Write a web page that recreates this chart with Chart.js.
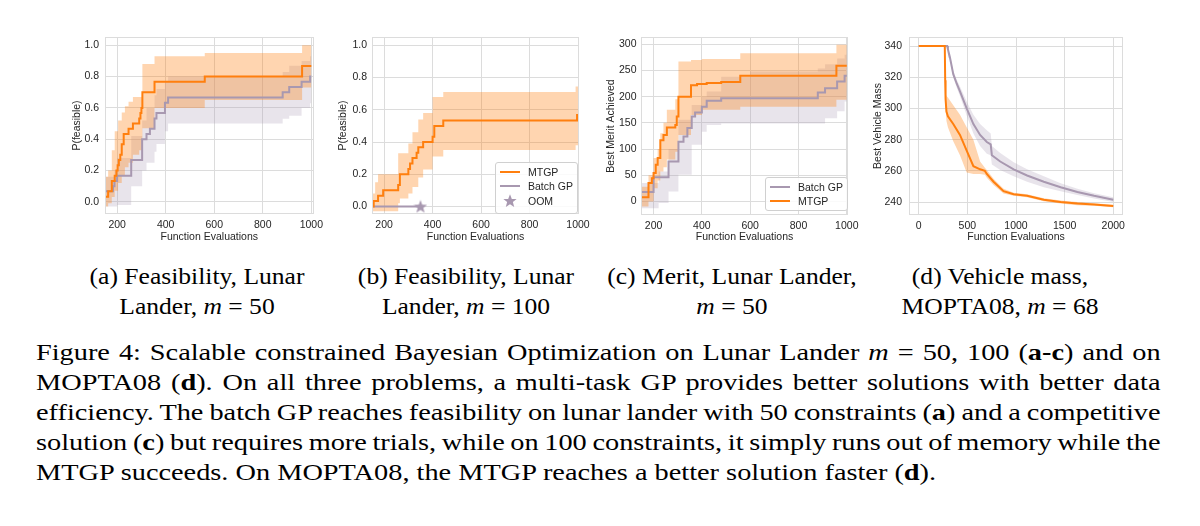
<!DOCTYPE html>
<html><head><meta charset="utf-8">
<script src="https://cdn.jsdelivr.net/npm/chart.js@4/dist/chart.umd.min.js"></script>
<style>
html,body{margin:0;padding:0;background:#fff;width:1200px;height:526px;overflow:hidden;position:relative;}
.panel{position:absolute;}
.sub{position:absolute;width:320px;text-align:center;font-family:"Liberation Serif",serif;font-size:24px;line-height:30px;color:#000;transform:scaleX(1.065);transform-origin:50% 0;}
.cap{position:absolute;left:36px;top:337px;width:953px;font-family:"Liberation Serif",serif;font-size:24px;line-height:30px;color:#000;transform:scaleX(1.18);transform-origin:0 0;}
.cap div{text-align:justify;text-align-last:justify;word-spacing:-1.5px;white-space:nowrap;}
.cap div.last{text-align:left;text-align-last:left;word-spacing:0;}
.leg{position:absolute;border:1px solid #d0d0d0;border-radius:3px;background:rgba(255,255,255,0.85);font-family:"Liberation Sans",sans-serif;font-size:10.5px;color:#262626;}
.leg .row{position:absolute;left:0;width:100%;height:14px;line-height:14px;white-space:nowrap;}
.leg .ln{position:absolute;left:4px;top:6px;width:20px;height:2px;}
.leg .tx{position:absolute;left:32px;top:0;}
.leg svg{position:absolute;left:7px;top:0px;}
</style></head><body>

<div class="panel" style="left:55px;top:28px;width:280px;height:222px;"><canvas id="ca" width="280" height="222"></canvas></div>
<div class="panel" style="left:322px;top:28px;width:277px;height:222px;"><canvas id="cb" width="277" height="222"></canvas></div>
<div class="panel" style="left:590px;top:28px;width:280px;height:222px;"><canvas id="cc" width="280" height="222"></canvas></div>
<div class="panel" style="left:858px;top:28px;width:285px;height:222px;"><canvas id="cd" width="285" height="222"></canvas></div>

<div class="leg" style="left:495px;top:162px;width:81px;height:50px;">
  <div class="row" style="top:2px;"><span class="ln" style="background:#ff7f0e"></span><span class="tx">MTGP</span></div>
  <div class="row" style="top:16px;"><span class="ln" style="background:#a898b0"></span><span class="tx">Batch GP</span></div>
  <div class="row" style="top:31px;"><svg width="14" height="14" viewBox="0 0 20 20"><polygon points="10,0.5 12.6,7 19.5,7.2 14.1,11.5 16,18.5 10,14.5 4,18.5 5.9,11.5 0.5,7.2 7.4,7" fill="#a898b0"/></svg><span class="tx">OOM</span></div>
</div>
<div class="leg" style="left:765px;top:177px;width:81px;height:32px;">
  <div class="row" style="top:1.5px;"><span class="ln" style="background:#a898b0"></span><span class="tx">Batch GP</span></div>
  <div class="row" style="top:16px;"><span class="ln" style="background:#ff7f0e"></span><span class="tx">MTGP</span></div>
</div>

<div class="sub" style="left:37px;top:261px;">(a) Feasibility, Lunar<br>Lander, <i>m</i> = 50</div>
<div class="sub" style="left:306px;top:261px;">(b) Feasibility, Lunar<br>Lander, <i>m</i> = 100</div>
<div class="sub" style="left:572px;top:261px;">(c) Merit, Lunar Lander,<br><i>m</i> = 50</div>
<div class="sub" style="left:840px;top:261px;">(d) Vehicle mass,<br>MOPTA08, <i>m</i> = 68</div>

<div class="cap">
<div>Figure 4: Scalable constrained Bayesian Optimization on Lunar Lander <i>m</i> = 50, 100 (<b>a-c</b>) and on</div>
<div>MOPTA08 (<b>d</b>). On all three problems, a multi-task GP provides better solutions with better data</div>
<div>efficiency. The batch GP reaches feasibility on lunar lander with 50 constraints (<b>a</b>) and a competitive</div>
<div>solution (<b>c</b>) but requires more trials, while on 100 constraints, it simply runs out of memory while the</div>
<div class="last">MTGP succeeds. On MOPTA08, the MTGP reaches a better solution faster (<b>d</b>).</div>
</div>

<script>
// ---------------- DATA ----------------
// Panel (a): Feasibility, Lunar Lander m=50
const aMtgpX = [150, 163, 178, 190, 197, 202, 207, 213, 219, 227, 247, 265, 291, 296, 300, 304, 354, 561, 962, 1000];
const aMtgpY = [0.033, 0.067, 0.133, 0.167, 0.2, 0.233, 0.267, 0.3, 0.367, 0.433, 0.467, 0.5, 0.533, 0.567, 0.6, 0.7, 0.767, 0.8, 0.867, 0.867];
const aMtgpBandX = [150, 163, 178, 190, 204, 219, 232, 247, 265, 291, 304, 354, 561, 962, 1000];
const aMtgpUp = [0.16, 0.2, 0.33, 0.45, 0.52, 0.57, 0.61, 0.64, 0.67, 0.67, 0.88, 0.93, 0.95, 1.0, 1.0];
const aMtgpLo = [-0.03, -0.01, 0.03, 0.07, 0.12, 0.17, 0.22, 0.25, 0.3, 0.33, 0.47, 0.6, 0.65, 0.73, 0.73];
const aBatchX = [150, 183, 189, 200, 258, 303, 321, 335, 354, 362, 397, 410, 882, 909, 960, 995, 1000];
const aBatchY = [0.067, 0.1, 0.133, 0.167, 0.267, 0.4, 0.433, 0.467, 0.533, 0.567, 0.633, 0.667, 0.7, 0.733, 0.767, 0.8, 0.8];
const aBatchBandX = [150, 189, 200, 258, 303, 321, 354, 362, 397, 410, 882, 909, 960, 995, 1000];
const aBatchUp = [0.16, 0.2, 0.28, 0.42, 0.52, 0.6, 0.68, 0.72, 0.77, 0.8, 0.83, 0.87, 0.9, 0.93, 0.93];
const aBatchLo = [-0.03, -0.03, -0.02, 0.1, 0.2, 0.25, 0.32, 0.37, 0.45, 0.5, 0.53, 0.55, 0.6, 0.63, 0.63];

// Panel (b): Feasibility, Lunar Lander m=100
const bMtgpX = [150, 157, 175, 196, 258, 265, 300, 307, 317, 334, 341, 361, 400, 407, 444, 996, 1000];
const bMtgpY = [0, 0.033, 0.067, 0.1, 0.133, 0.2, 0.233, 0.267, 0.3, 0.333, 0.367, 0.4, 0.433, 0.5, 0.533, 0.567, 0.567];
const bMtgpBandX = [150, 163, 175, 258, 265, 300, 317, 341, 361, 400, 444, 990, 1000];
const bMtgpUp = [0.08, 0.15, 0.2, 0.33, 0.33, 0.39, 0.46, 0.54, 0.58, 0.68, 0.71, 0.745, 0.745];
const bMtgpLo = [-0.03, -0.03, -0.03, 0.02, 0.05, 0.08, 0.12, 0.18, 0.23, 0.31, 0.35, 0.38, 0.38];
const bBatchX = [150, 350];
const bBatchY = [0, 0];
const bOomX = [350];
const bOomY = [0];

// Panel (c): Merit, Lunar Lander m=50
const cMtgpX = [150, 179, 193, 200, 209, 217, 228, 241, 255, 290, 296, 303, 355, 380, 420, 480, 559, 957, 1000];
const cMtgpY = [8, 35, 44, 54, 70, 83, 117, 127, 141, 146, 162, 200, 222, 224, 226, 228, 240, 259, 259];
const cMtgpBandX = [150, 179, 200, 217, 228, 241, 255, 290, 303, 355, 400, 559, 957, 1000];
const cMtgpUp = [28, 50, 83, 100, 130, 150, 175, 195, 267, 270, 272, 283, 299, 299];
const cMtgpLo = [-10, 0, 25, 40, 57, 65, 80, 95, 127, 165, 175, 181, 194, 194];
const cBatchX = [150, 176, 200, 262, 303, 324, 340, 358, 372, 400, 420, 480, 880, 910, 960, 991, 1000];
const cBatchY = [18, 18, 46, 76, 114, 124, 140, 162, 170, 181, 192, 197, 208, 216, 229, 240, 240];
const cBatchBandX = [150, 221, 262, 303, 358, 400, 420, 480, 600, 880, 910, 960, 991, 1000];
const cBatchUp = [35, 57, 100, 156, 184, 200, 210, 238, 248, 254, 262, 273, 280, 280];
const cBatchLo = [-13, -3, 19, 51, 108, 133, 146, 149, 149, 149, 159, 172, 191, 191];

// Panel (d): Vehicle mass, MOPTA08 m=68
const dMtgpX = [0, 268, 272, 276, 285, 300, 355, 424, 493, 562, 631, 680, 700, 769, 872, 976, 1114, 1286, 1459, 1631, 1803, 2000];
const dMtgpY = [340, 340, 318, 306, 298, 295, 290, 283, 273, 263, 261, 260, 258, 253, 247, 245, 244, 241.5, 240, 239, 238.5, 237.5];
const dMtgpUp = [340, 340, 318, 310, 308, 307, 302, 296, 288, 280, 266, 262, 260.5, 255, 248.5, 246, 245, 242.5, 241, 240, 239.3, 238.3];
const dMtgpLo = [340, 340, 318, 300, 292, 288, 279, 270, 259, 258, 258, 257.5, 255.5, 251, 245.5, 244, 243, 240.5, 239, 238, 237.7, 236.7];
const dBatchX = [0, 293, 300, 320, 355, 390, 424, 493, 562, 631, 700, 740, 752, 838, 976, 1114, 1286, 1459, 1631, 1803, 2000];
const dBatchY = [340, 340, 338, 333, 322, 316, 311, 300, 290, 283, 278.5, 277, 270, 266, 261, 257, 253, 249.5, 246.5, 244, 241.5];
const dBatchUp = [340, 340, 338.5, 334, 324, 318.5, 314, 304.5, 296, 290, 286, 284, 276, 271.5, 265.5, 261, 256.5, 252, 248.5, 245.7, 243];
const dBatchLo = [340, 340, 337.5, 332, 320, 313.5, 308, 295.5, 284, 276, 271, 270, 264, 260.5, 256.5, 253, 249.5, 247, 244.5, 242.3, 240];

// Tick labels
const xTicksLL = [200, 400, 600, 800, 1000];
const xTicksMO = [0, 500, 1000, 1500, 2000];
const yTicksFeas = [0, 0.2, 0.4, 0.6, 0.8, 1.0];
const yTicksMerit = [0, 50, 100, 150, 200, 250, 300];
const yTicksMass = [240, 260, 280, 300, 320, 340];

// ---------------- STYLE ----------------
const ORANGE = '#ff7f0e';
const ORANGE_FILL = 'rgba(255,127,14,0.33)';
const GRAY = '#a898b0';
const GRAY_FILL = 'rgba(168,152,176,0.26)';
const GRID = '#dcdcdc';
const TXT = '#262626';
const FONT = '"Liberation Sans", Arial, sans-serif';

function pts(xs, ys) { return xs.map((x, i) => ({x: x, y: ys[i]})); }
function lineDS(xs, ys, color, stepped) {
  return {data: pts(xs, ys), borderColor: color, borderWidth: 2, pointRadius: 0, stepped: stepped, fill: false, tension: 0};
}
function bandDS(xs, up, lo, fillColor, stepped) {
  return [
    {data: pts(xs, up), borderColor: 'rgba(0,0,0,0)', borderWidth: 0, pointRadius: 0, stepped: stepped, fill: '+1', backgroundColor: fillColor, tension: 0},
    {data: pts(xs, lo), borderColor: 'rgba(0,0,0,0)', borderWidth: 0, pointRadius: 0, stepped: stepped, fill: false, tension: 0}
  ];
}

function starImage(size, color) {
  const c = document.createElement('canvas');
  c.width = size; c.height = size;
  const g = c.getContext('2d');
  const cx = size / 2, cy = size / 2 + size * 0.04, R = size / 2, r = R * 0.42;
  g.beginPath();
  for (let i = 0; i < 10; i++) {
    const ang = -Math.PI / 2 + i * Math.PI / 5;
    const rad = i % 2 === 0 ? R : r;
    const px = cx + rad * Math.cos(ang), py = cy + rad * Math.sin(ang);
    if (i === 0) g.moveTo(px, py); else g.lineTo(px, py);
  }
  g.closePath();
  g.fillStyle = color; g.fill();
  return c;
}

const framePlugin = {
  id: 'frame',
  afterDatasetsDraw(chart) {
    const {ctx, chartArea: a} = chart;
    ctx.save();
    ctx.strokeStyle = GRID; ctx.lineWidth = 1;
    ctx.strokeRect(Math.round(a.left) + 0.5, Math.round(a.top) + 0.5, Math.round(a.right - a.left) - 1, Math.round(a.bottom - a.top) - 1);
    ctx.restore();
  }
};

function makePanel(canvasId, box, area, opt) {
  const padTop = area.t - box.T;
  const padRight = box.L + box.W - area.r;
  const yW = area.l - box.L;
  const xH = box.T + box.H - area.b;
  new Chart(document.getElementById(canvasId), {
    type: 'line',
    data: {datasets: opt.datasets},
    plugins: [framePlugin],
    options: {
      responsive: false, animation: false, events: [],
      layout: {padding: {top: padTop, right: padRight, left: 0, bottom: 0}},
      plugins: {legend: {display: false}, tooltip: {enabled: false}},
      scales: {
        x: {
          type: 'linear', min: opt.xMin, max: opt.xMax,
          afterBuildTicks: s => { s.ticks = opt.xTicks.map(v => ({value: v})); },
          afterFit: s => { s.height = xH; s.paddingLeft = 0; s.paddingRight = 0; },
          grid: {color: GRID, lineWidth: 1, drawTicks: false},
          border: {display: false},
          ticks: {color: TXT, font: {family: FONT, size: 10.5}, padding: 5, maxRotation: 0, autoSkip: false, callback: v => String(v)},
          title: {display: true, text: 'Function Evaluations', color: TXT, font: {family: FONT, size: 10.5}, padding: {top: 0, bottom: 6.7}}
        },
        y: {
          type: 'linear', min: opt.yMin, max: opt.yMax,
          afterBuildTicks: s => { s.ticks = opt.yTicks.map(v => ({value: v})); },
          afterFit: s => { s.width = yW; s.paddingTop = 0; s.paddingBottom = 0; },
          grid: {color: GRID, lineWidth: 1, drawTicks: false},
          border: {display: false},
          ticks: {color: TXT, font: {family: FONT, size: 10.5}, padding: opt.yPad, callback: opt.yFmt, autoSkip: false},
          title: {display: true, text: opt.yTitle, color: TXT, font: {family: FONT, size: 10.5}, padding: {top: opt.yTitlePad, bottom: 0}}
        }
      }
    }
  });
}

const fmt1 = v => Number(v).toFixed(1);
const fmt0 = v => String(Math.round(v));

// (a)
makePanel('ca', {L: 55, T: 28, W: 280, H: 222}, {l: 105, r: 313.5, t: 37, b: 214}, {
  xMin: 150, xMax: 1009, yMin: -0.078, yMax: 1.053, xTicks: xTicksLL, yTicks: yTicksFeas, yFmt: fmt1,
  yTitle: 'P(feasible)', yTitlePad: 15.7, yPad: 6,
  datasets: [
    lineDS(aMtgpX, aMtgpY, ORANGE, true),
    lineDS(aBatchX, aBatchY, GRAY, true),
    ...bandDS(aMtgpBandX, aMtgpUp, aMtgpLo, ORANGE_FILL, true),
    ...bandDS(aBatchBandX, aBatchUp, aBatchLo, GRAY_FILL, true)
  ]
});

// (b)
const star = starImage(14, GRAY);
makePanel('cb', {L: 322, T: 28, W: 277, H: 222}, {l: 372, r: 579, t: 37, b: 214}, {
  xMin: 150, xMax: 1004, yMin: -0.047, yMax: 1.052, xTicks: xTicksLL, yTicks: yTicksFeas, yFmt: fmt1,
  yTitle: 'P(feasible)', yTitlePad: 14.7, yPad: 5,
  datasets: [
    {data: pts(bOomX, bOomY), showLine: false, pointStyle: star, pointRadius: 7, borderWidth: 0},
    lineDS(bMtgpX, bMtgpY, ORANGE, true),
    lineDS(bBatchX, bBatchY, GRAY, true),
    ...bandDS(bMtgpBandX, bMtgpUp, bMtgpLo, ORANGE_FILL, true)
  ]
});

// (c)
makePanel('cc', {L: 590, T: 28, W: 280, H: 222}, {l: 641, r: 848, t: 37, b: 215}, {
  xMin: 148, xMax: 1005, yMin: -26, yMax: 314, xTicks: xTicksLL, yTicks: yTicksMerit, yFmt: fmt0,
  yTitle: 'Best Merit Achieved', yTitlePad: 14.4, yPad: 4.5,
  datasets: [
    lineDS(cMtgpX, cMtgpY, ORANGE, true),
    lineDS(cBatchX, cBatchY, GRAY, true),
    ...bandDS(cMtgpBandX, cMtgpUp, cMtgpLo, ORANGE_FILL, true),
    ...bandDS(cBatchBandX, cBatchUp, cBatchLo, GRAY_FILL, true)
  ]
});

// (d)
makePanel('cd', {L: 858, T: 28, W: 285, H: 222}, {l: 909, r: 1123, t: 37, b: 215}, {
  xMin: -100, xMax: 2100, yMin: 231.7, yMax: 345.8, xTicks: xTicksMO, yTicks: yTicksMass, yFmt: fmt0,
  yTitle: 'Best Vehicle Mass', yTitlePad: 13.7, yPad: 7,
  datasets: [
    lineDS(dMtgpX, dMtgpY, ORANGE, false),
    lineDS(dBatchX, dBatchY, GRAY, false),
    ...bandDS(dMtgpX, dMtgpUp, dMtgpLo, ORANGE_FILL, false),
    ...bandDS(dBatchX, dBatchUp, dBatchLo, GRAY_FILL, false)
  ]
});
</script>
</body></html>
